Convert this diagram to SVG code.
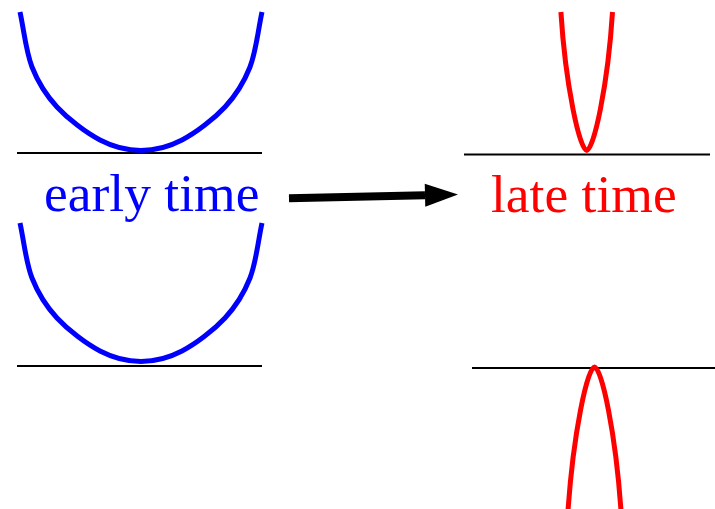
<svg xmlns="http://www.w3.org/2000/svg" width="715" height="509" viewBox="0 0 715 509">
<style>
.base{stroke:#000;stroke-width:2.2;fill:none}
.blue{stroke:#0000ff;stroke-width:5;fill:none;stroke-linejoin:round}
.red{stroke:#ff0000;stroke-width:5;fill:none;stroke-linejoin:round}
.lbl{font-family:"Liberation Serif","Times New Roman",serif;font-size:53.5px}
</style>
<defs>
<marker id="ah" markerUnits="userSpaceOnUse" markerWidth="34" markerHeight="24" refX="0" refY="11.5" orient="auto" overflow="visible">
<path d="M0,0 L33,11.5 L0,23 z" fill="#000"/>
</marker>
<path id="bluewell" d="M20,12 C24,30.3 25.8,51.2 32,67 C38.2,82.8 45.7,94.8 57,107 C68.3,119.2 86,132.7 100,140 C114,147.3 127.3,150.5 141,150.5 C154.7,150.5 168,147.3 182,140 C196,132.7 213.7,119.2 225,107 C236.3,94.8 243.8,82.8 250,67 C256.2,51.2 258,30.3 262,12"/>
</defs>
<rect width="715" height="509" fill="#fff"/>
<g id="early-top">
<line class="base" x1="17" y1="153" x2="262" y2="153"/>
<use href="#bluewell" class="blue"/>
</g>
<g id="early-label">
<text class="lbl" x="44" y="211" fill="#0000ff">early time</text>
</g>
<g id="early-bottom">
<line class="base" x1="17" y1="366" x2="262" y2="366"/>
<use href="#bluewell" class="blue" transform="translate(0,211)"/>
</g>
<g id="late-top">
<line class="base" x1="464" y1="154.5" x2="710" y2="154.5"/>
<path class="red" d="M560.9,12 C565.5,85 579.7,150.5 586.7,150.5 C593.7,150.5 607.9,85 612.5,12"/>
</g>
<g id="late-label">
<text class="lbl" x="491" y="212" fill="#ff0000">late time</text>
</g>
<g id="late-bottom">
<line class="base" x1="472" y1="368" x2="715" y2="368"/>
<path class="red" d="M567.9,512 C573.3,432.5 587.5,367 594.5,367 C601.5,367 615.7,432.5 621.1,512"/>
</g>
<g id="connectors">
<line x1="289" y1="198.2" x2="425" y2="195.3" stroke="#000" stroke-width="8" marker-end="url(#ah)"/>
</g>
</svg>
